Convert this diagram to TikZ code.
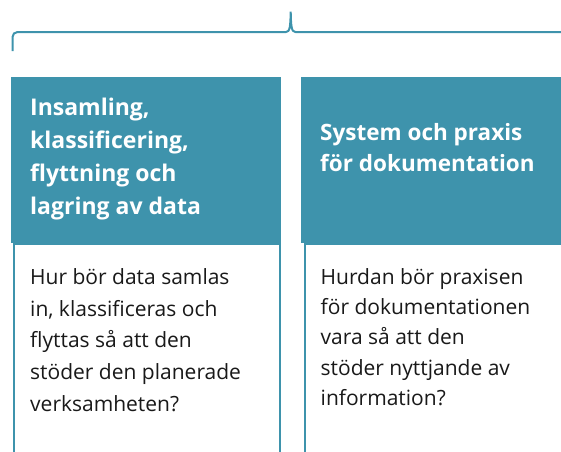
\documentclass[tikz,border=0pt]{standalone}
\usepackage{fontspec}
\setmainfont{Open Sans}
\definecolor{tealb}{RGB}{62,147,172}
\tikzset{
  hdr/.style={fill=tealb,rectangle,anchor=north west,inner sep=0pt},
  bdy/.style={draw=tealb,line width=2pt,fill=white,rectangle,anchor=north west,inner sep=0pt},
  hdrtxt/.style={text=white,align=left,anchor=base west,inner sep=0pt},
  bdytxt/.style={text=black!90,align=left,anchor=base west,inner sep=0pt,font=\fontsize{21}{31.8}\selectfont},
}
\begin{document}
\begin{tikzpicture}[x=1pt,y=-1pt]
        \useasboundingbox (0,0) rectangle (561,451);
        %% Brace
        \draw[tealb,line width=2pt,rounded corners=5pt] (12.5,51) -- (12.5,32) -- (286,32);
        \draw[tealb,line width=2pt] (286,32) .. controls (290,32) and (290.4,26) .. (290.7,11.7)
            .. controls (291,26) and (291.4,32) .. (295.5,32) -- (575,32);
        %% Left column (text nodes sit on their last baseline)
        \node[bdy,minimum width=266,minimum height=230] (bodyA) at (13,243) {};
        \node[hdr,minimum width=270,minimum height=166] (headA) at (10.7,77) {};
        \node[hdrtxt,font=\bfseries\fontsize{23}{33}\selectfont] (titleA) at (30,214.3)
            {Insamling,\\klassificering,\\flyttning och\\lagring av data};
        \node[bdytxt] (textA) at (30,411.5)
            {Hur bör data samlas\\in, klassificeras och\\flyttas så att den\\stöder den planerade\\verksamheten?};
        %% Right column
        \node[bdy,minimum width=280,minimum height=230] (bodyB) at (303.5,243) {};
        \node[hdr,minimum width=270,minimum height=166] (headB) at (300.7,76.5) {};
        \node[hdrtxt,font=\bfseries\fontsize{22.5}{31}\selectfont] (titleB) at (320,171)
            {System och praxis\\för dokumentation};
        \node[bdytxt,font=\fontsize{21}{30.4}\selectfont] (textB) at (320.5,405.7)
            {Hurdan bör praxisen\\för dokumentationen\\vara så att den\\stöder nyttjande av\\information?};
\end{tikzpicture}
\end{document}
